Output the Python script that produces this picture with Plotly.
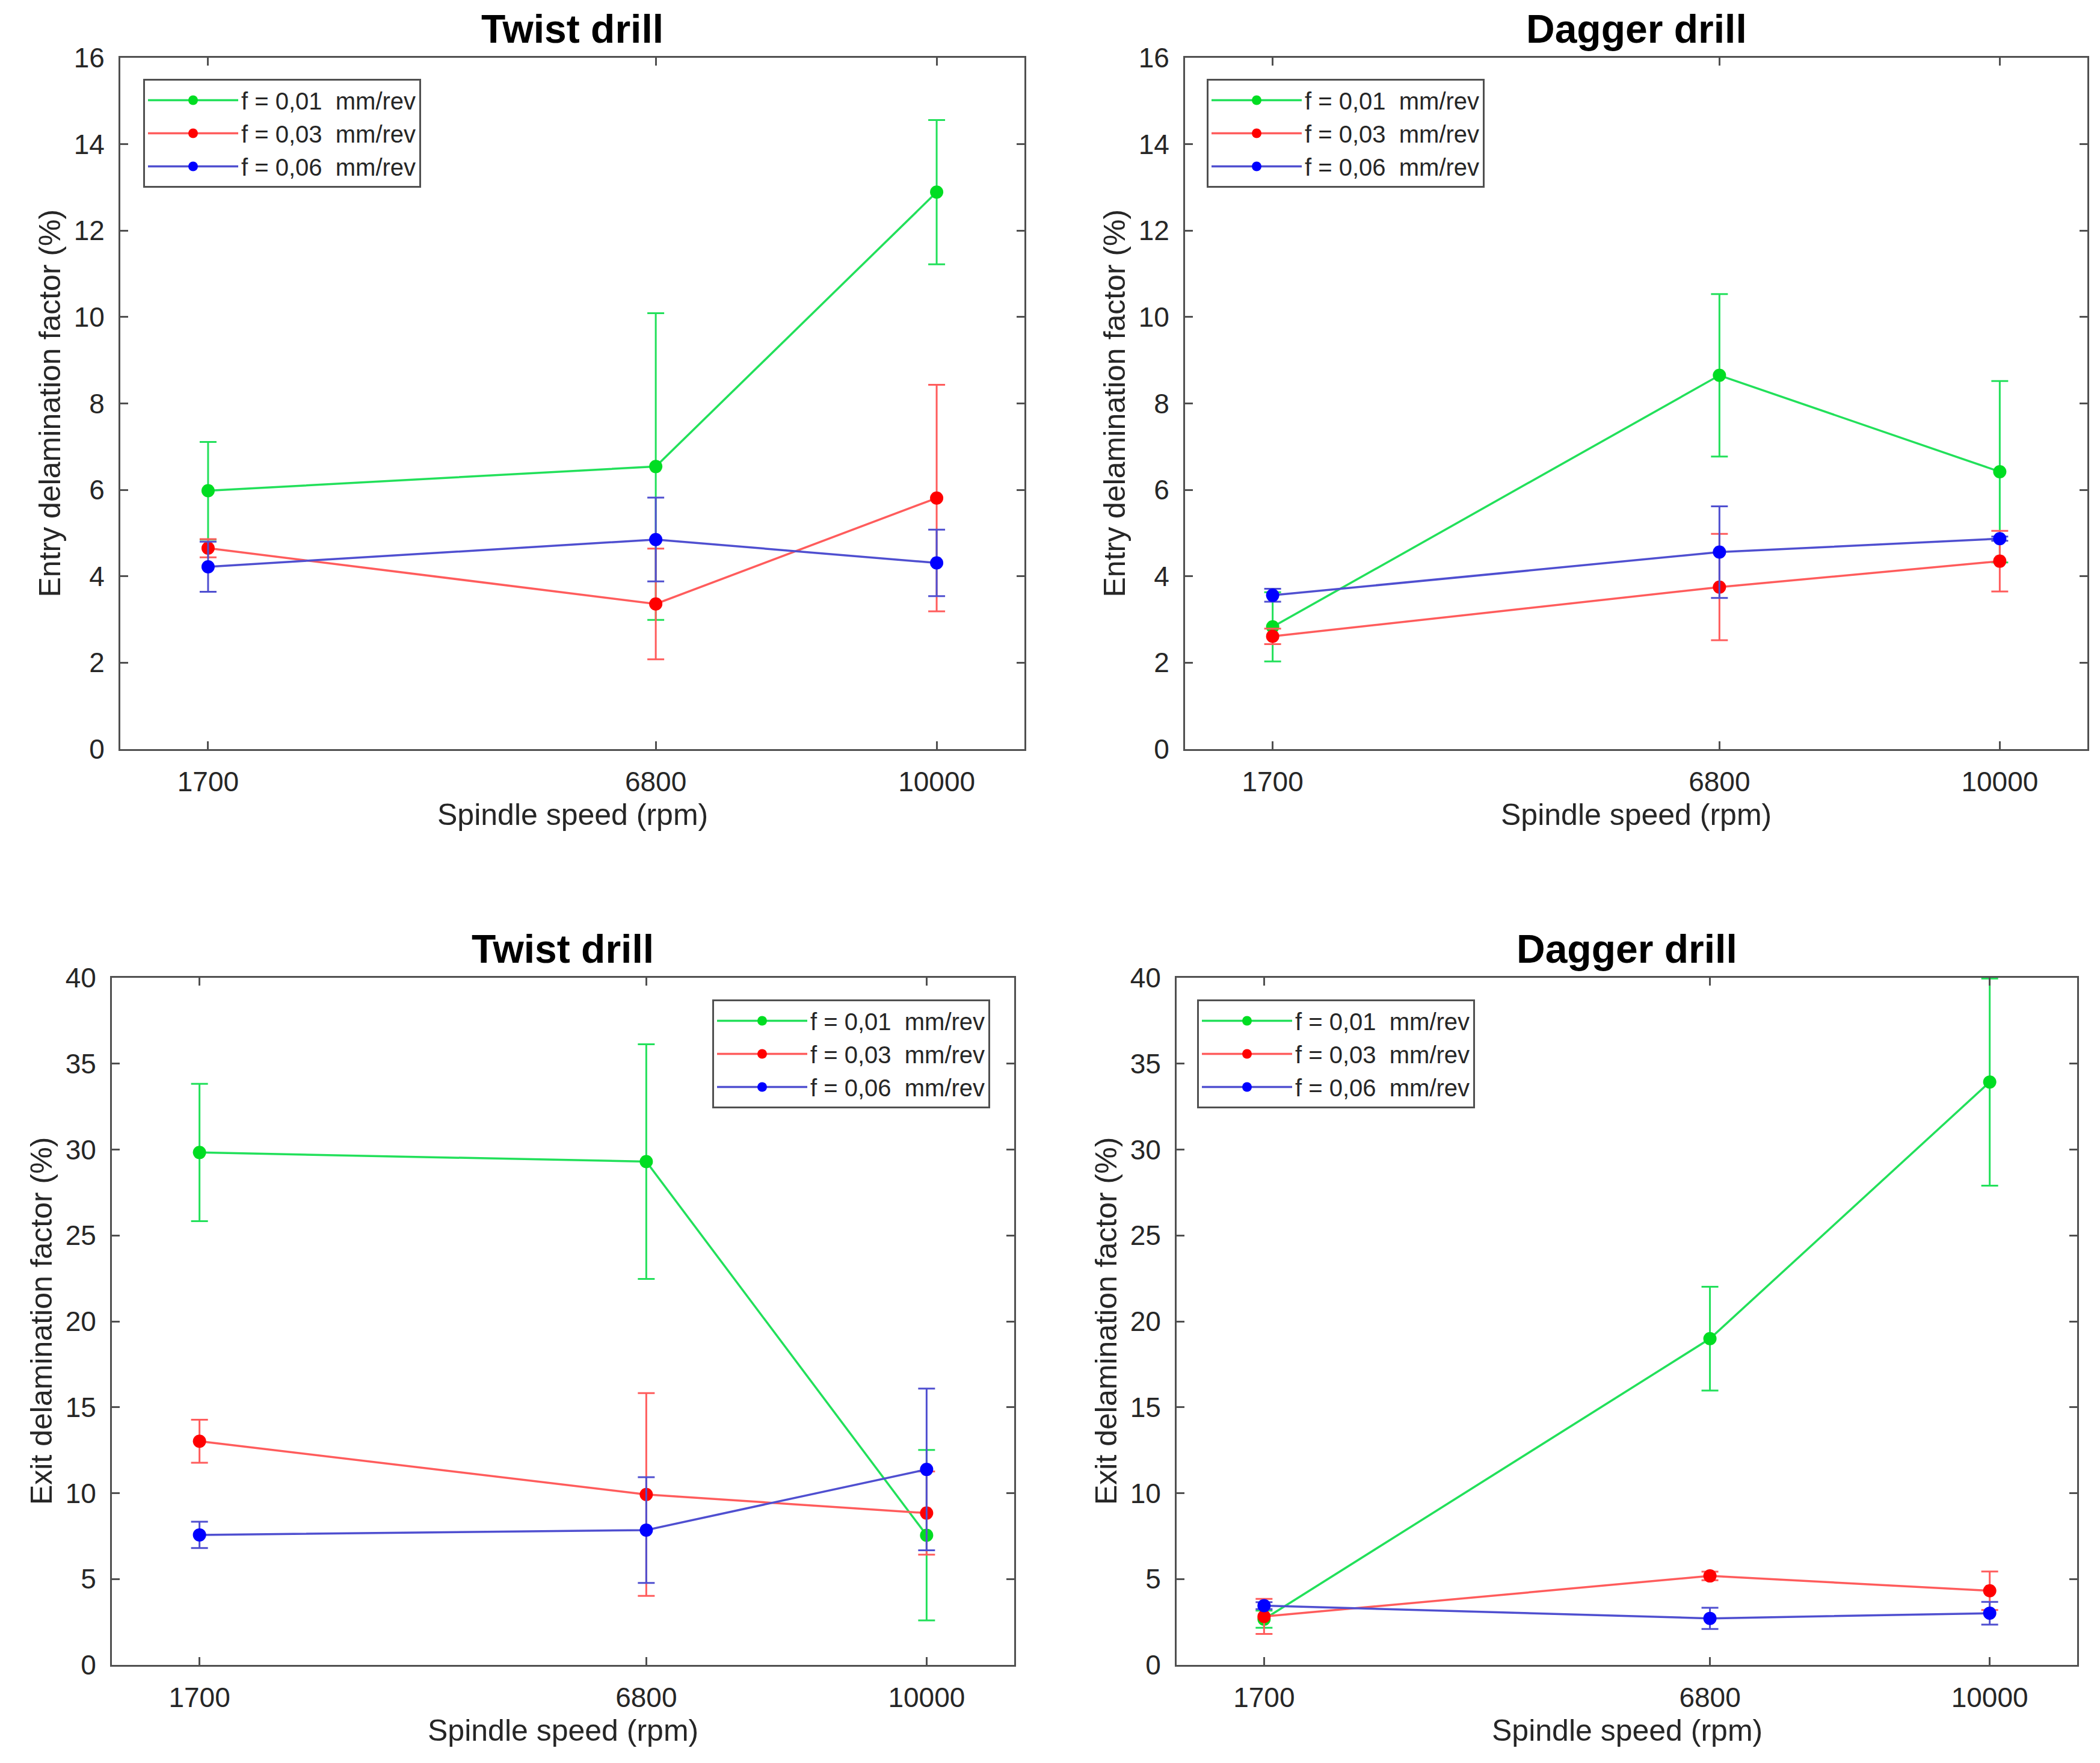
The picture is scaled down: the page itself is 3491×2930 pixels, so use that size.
import plotly.graph_objects as go

# ---------------- data ----------------
speeds = [1700, 6800, 10000]
x_tick_labels = ["1700", "6800", "10000"]
series_names = ["f = 0,01  mm/rev", "f = 0,03  mm/rev", "f = 0,06  mm/rev"]

# Entry delamination, twist drill
entry_twist_f001 = [5.98, 6.54, 12.89]
entry_twist_f001_err = [1.13, 3.55, 1.67]
entry_twist_f003 = [4.65, 3.36, 5.81]
entry_twist_f003_err = [0.21, 1.28, 2.62]
entry_twist_f006 = [4.22, 4.85, 4.31]
entry_twist_f006_err = [0.58, 0.97, 0.77]

# Entry delamination, dagger drill
entry_dagger_f001 = [2.83, 8.65, 6.42]
entry_dagger_f001_err = [0.80, 1.88, 2.10]
entry_dagger_f003 = [2.61, 3.75, 4.35]
entry_dagger_f003_err = [0.18, 1.23, 0.70]
entry_dagger_f006 = [3.56, 4.56, 4.87]
entry_dagger_f006_err = [0.15, 1.06, 0.05]

# Exit delamination, twist drill
exit_twist_f001 = [29.83, 29.30, 7.55]
exit_twist_f001_err = [4.00, 6.83, 4.96]
exit_twist_f003 = [13.02, 9.92, 8.84]
exit_twist_f003_err = [1.25, 5.90, 2.42]
exit_twist_f006 = [7.57, 7.85, 11.38]
exit_twist_f006_err = [0.77, 3.08, 4.71]

# Exit delamination, dagger drill
exit_dagger_f001 = [2.66, 18.99, 33.93]
exit_dagger_f001_err = [0.50, 3.02, 6.03]
exit_dagger_f003 = [2.82, 5.18, 4.32]
exit_dagger_f003_err = [1.02, 0.25, 1.12]
exit_dagger_f006 = [3.45, 2.71, 3.01]
exit_dagger_f006_err = [0.20, 0.62, 0.66]

panel_titles = ["Twist drill", "Dagger drill", "Twist drill", "Dagger drill"]
y_titles = ["Entry delamination factor (%)", "Entry delamination factor (%)",
            "Exit delamination factor (%)", "Exit delamination factor (%)"]
x_title = "Spindle speed (rpm)"
entry_y_ticks = [0, 2, 4, 6, 8, 10, 12, 14, 16]
exit_y_ticks = [0, 5, 10, 15, 20, 25, 30, 35, 40]

# ---------------- style ----------------
W, H = 3491, 2930
FONT = "Liberation Sans, Arial, Helvetica, sans-serif"
AXC = "#505050"
TXT = "#262626"
line_colors = ["#22e05a", "#ff5c5c", "#4f4fd0"]
marker_colors = ["#00dd22", "#ff0000", "#0000ff"]

# axes pixel boxes (left, right, top, bottom)
boxes = [(200, 1703, 96, 1245), (1970, 3470, 96, 1245),
         (186, 1686, 1625, 2767), (1956, 3453, 1625, 2767)]
legend_pos = [(238, 131), (2006, 131), (1184, 1661), (1990, 1661)]

panels = [
    ([entry_twist_f001, entry_twist_f003, entry_twist_f006],
     [entry_twist_f001_err, entry_twist_f003_err, entry_twist_f006_err], [0, 16], entry_y_ticks),
    ([entry_dagger_f001, entry_dagger_f003, entry_dagger_f006],
     [entry_dagger_f001_err, entry_dagger_f003_err, entry_dagger_f006_err], [0, 16], entry_y_ticks),
    ([exit_twist_f001, exit_twist_f003, exit_twist_f006],
     [exit_twist_f001_err, exit_twist_f003_err, exit_twist_f006_err], [0, 40], exit_y_ticks),
    ([exit_dagger_f001, exit_dagger_f003, exit_dagger_f006],
     [exit_dagger_f001_err, exit_dagger_f003_err, exit_dagger_f006_err], [0, 40], exit_y_ticks),
]

fig = go.Figure()
layout = dict(width=W, height=H,
              margin=dict(l=0, r=0, t=0, b=0, pad=0, autoexpand=False),
              paper_bgcolor="white", plot_bgcolor="white",
              font=dict(family=FONT, color=TXT), annotations=[])

for i, (vals, errs, yr, yt) in enumerate(panels):
    n = "" if i == 0 else str(i + 1)
    leg = "legend" if i == 0 else f"legend{i + 1}"
    l, r, t, b = boxes[i]
    xd = [l / W, r / W]
    yd = [1 - b / H, 1 - t / H]
    for k in range(3):
        fig.add_trace(go.Scatter(
            x=speeds, y=vals[k], name=series_names[k],
            xaxis="x" + n, yaxis="y" + n, legend=leg,
            mode="lines+markers",
            line=dict(color=line_colors[k], width=3.5),
            marker=dict(color=marker_colors[k], size=22, line=dict(width=0)),
            error_y=dict(type="data", array=errs[k], visible=True,
                         color=line_colors[k], thickness=3, width=14),
            cliponaxis=False,
        ))
    axcommon = dict(showline=True, linecolor=AXC, linewidth=3, mirror="allticks",
                    ticks="inside", ticklen=13, tickwidth=3, tickcolor=AXC,
                    showgrid=False, zeroline=False, automargin=False,
                    tickfont=dict(family=FONT, size=46, color=TXT))
    layout["xaxis" + n] = dict(axcommon, domain=xd, anchor="y" + n, range=[700, 11000],
                               tickvals=speeds, ticktext=x_tick_labels,
                               ticklabelstandoff=12)
    layout["yaxis" + n] = dict(axcommon, domain=yd, anchor="x" + n, range=yr,
                               tickvals=yt, ticklabelstandoff=14)
    lx, ly = legend_pos[i]
    layout[leg] = dict(x=lx / W, y=1 - ly / H, xanchor="left", yanchor="top",
                       bgcolor="white", bordercolor=AXC, borderwidth=3,
                       font=dict(family=FONT, size=40, color=TXT),
                       itemwidth=150, tracegroupgap=0)
    cx = (xd[0] + xd[1]) / 2
    cy = (yd[0] + yd[1]) / 2
    layout["annotations"] += [
        dict(text=f"<b>{panel_titles[i]}</b>", xref="paper", yref="paper",
             x=cx, y=yd[1], yshift=48, xanchor="center", yanchor="middle",
             showarrow=False, font=dict(family=FONT, size=66, color="black")),
        dict(text=x_title, xref="paper", yref="paper", x=cx, y=yd[0], yshift=-109,
             xanchor="center", yanchor="middle", showarrow=False,
             font=dict(family=FONT, size=50, color=TXT)),
        dict(text=y_titles[i], xref="paper", yref="paper", x=xd[0], y=cy, xshift=-117,
             xanchor="center", yanchor="middle", textangle=-90, showarrow=False,
             font=dict(family=FONT, size=50, color=TXT)),
    ]

fig.update_layout(**layout)
fig.update_layout(showlegend=True)

post = ("var gd=document.getElementById('{plot_id}');"
        "document.documentElement.style.margin='0';"
        "document.documentElement.style.overflow='hidden';"
        "document.body.style.margin='0';document.body.style.overflow='hidden';"
        "gd.style.position='fixed';gd.style.left='0px';gd.style.top='0px';")
fig.write_html("out.html", post_script=post, config={"displayModeBar": False})
